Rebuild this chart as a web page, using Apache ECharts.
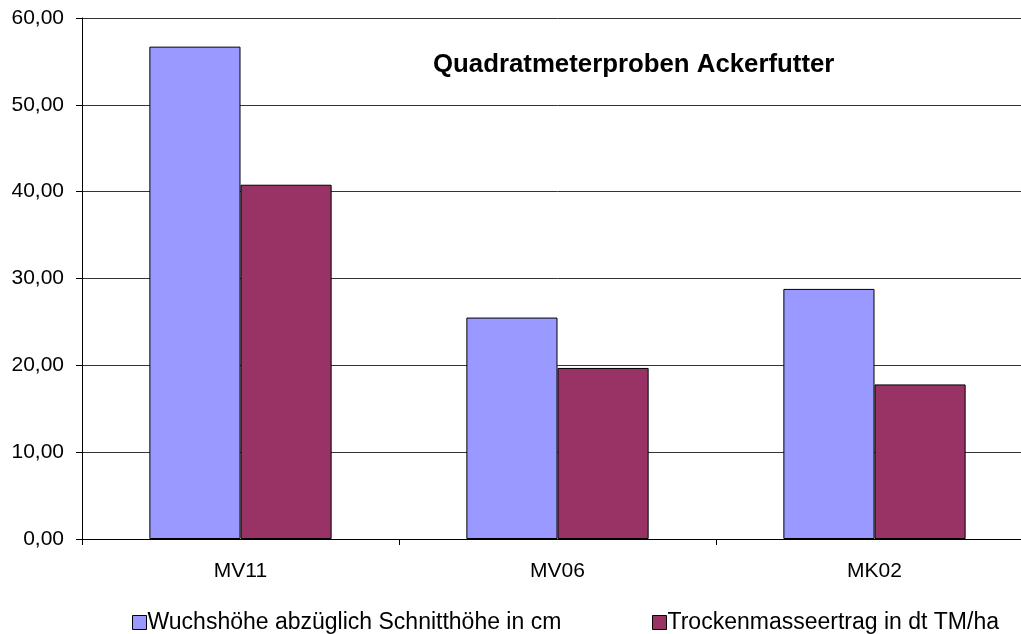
<!DOCTYPE html>
<html>
<head>
<meta charset="utf-8">
<script src="https://cdn.jsdelivr.net/npm/echarts@6/dist/echarts.min.js"></script>
<style>
html,body{margin:0;padding:0;background:#fff;overflow:hidden;width:1021px;height:634px;}
#c{width:1033px;height:634px;}
</style>
</head>
<body>
<div id="c"></div>
<script>
const categories = ['MV11', 'MV06', 'MK02'];
const seriesNames = ['Wuchshöhe abzüglich Schnitthöhe in cm', 'Trockenmasseertrag in dt TM/ha'];
const wuchshoehe = [56.7, 25.5, 28.8];
const trockenmasse = [40.8, 19.7, 17.8];
const yTicks = [0, 10, 20, 30, 40, 50, 60];
const titleText = 'Quadratmeterproben Ackerfutter';

const chart = echarts.init(document.getElementById('c'), null, {renderer: 'canvas'});
const font = 'Liberation Sans, Arial, sans-serif';
const legendBase = {
  top: 606, icon: 'rect', itemWidth: 14, itemHeight: 14,
  textStyle: {fontFamily: font, fontSize: 23, color: '#000', padding: [0,0,0,-4]},
  itemStyle: {borderColor: '#000', borderWidth: 1}
};
chart.setOption({
  animation: false,
  backgroundColor: '#ffffff',
  title: {
    text: titleText,
    left: 428, top: 47,
    textStyle: {fontFamily: font, fontWeight: 'bold', fontSize: 25.8, color: '#000'}
  },
  legend: [
    Object.assign({left: 127, data: [seriesNames[0]]}, legendBase),
    Object.assign({left: 647, data: [seriesNames[1]]}, legendBase)
  ],
  grid: {left: 82, top: 18, right: 0, height: 521, containLabel: false},
  xAxis: {
    type: 'category', data: categories,
    axisLine: {lineStyle: {color: '#000', width: 1}},
    axisTick: {show: true, length: 6, alignWithLabel: false, lineStyle: {color: '#000'}},
    axisLabel: {fontFamily: font, fontSize: 21, color: '#000', margin: 22}
  },
  yAxis: {
    type: 'value', min: yTicks[0], max: yTicks[yTicks.length-1], interval: 10,
    axisLine: {show: true, lineStyle: {color: '#000', width: 1}},
    axisTick: {show: true, length: 6, lineStyle: {color: '#000'}},
    splitLine: {show: true, lineStyle: {color: '#333', width: 1}},
    axisLabel: {fontFamily: font, fontSize: 21, color: '#000', margin: 18,
      formatter: v => v.toFixed(2).replace('.', ',')}
  },
  series: [
    {name: seriesNames[0], type: 'bar', data: wuchshoehe, barGap: '0%', barCategoryGap: '42.5%',
     itemStyle: {color: '#9999FF', borderColor: '#000', borderWidth: 1}},
    {name: seriesNames[1], type: 'bar', data: trockenmasse,
     itemStyle: {color: '#993366', borderColor: '#000', borderWidth: 1}}
  ]
});
</script>
</body>
</html>
